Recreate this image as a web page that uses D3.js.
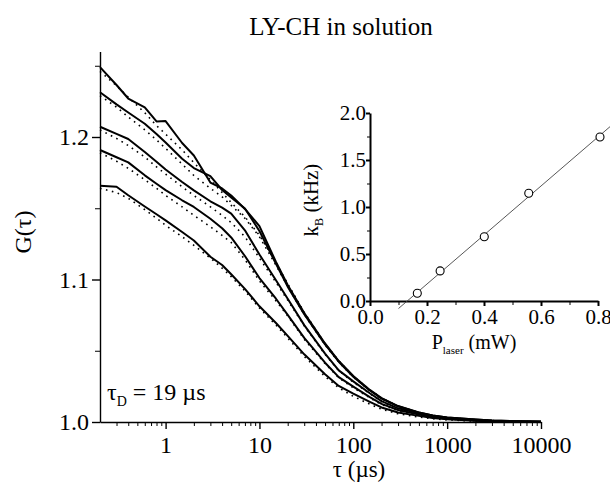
<!DOCTYPE html>
<html>
<head>
<meta charset="utf-8">
<script src="https://cdn.jsdelivr.net/npm/d3@7"></script>
<style>
  body { margin: 0; background: #fff; }
  .axis path, .axis line { stroke: #000; }
  text { font-family: "Liberation Serif", "Times New Roman", Times, serif; fill: #000; }
</style>
</head>
<body>
<script>
const SERIF = "'Liberation Serif', 'Times New Roman', Times, serif";

// lag times (us) shared by all correlation curves
const tau = [0.2, 0.3, 0.4, 0.6, 0.8, 1, 1.5, 2, 3, 4, 5, 7, 10, 15, 20, 30, 50, 70, 100, 150, 200, 300, 500, 700, 1000, 2000, 3000, 5000, 10000];

// measured G(tau), one array per laser power (top to bottom)
const g1 = [1.249, 1.2365, 1.227, 1.2208, 1.2109, 1.2112, 1.1958, 1.187, 1.168, 1.1639, 1.159, 1.1495, 1.1375, 1.1123, 1.0961, 1.0765, 1.0551, 1.0428, 1.0323, 1.0225, 1.0168, 1.0112, 1.0067, 1.0046, 1.0032, 1.0018, 1.0011, 1.0006, 1.0002];
const g2 = [1.2314, 1.2229, 1.2172, 1.2093, 1.2021, 1.1961, 1.1847, 1.1782, 1.1725, 1.1628, 1.1575, 1.1498, 1.134, 1.111, 1.095, 1.0757, 1.0545, 1.0423, 1.0318, 1.0221, 1.0165, 1.011, 1.0066, 1.0045, 1.0031, 1.0017, 1.001, 1.0006, 1.0002];
const g3 = [1.2072, 1.2022, 1.1986, 1.1895, 1.1827, 1.1772, 1.1684, 1.1625, 1.1549, 1.1504, 1.1462, 1.1345, 1.1175, 1.0995, 1.0865, 1.068, 1.048, 1.0362, 1.0285, 1.0202, 1.0146, 1.0096, 1.0061, 1.004, 1.0027, 1.0012, 1.0007, 1.0004, 1.0001];
const g4 = [1.1909, 1.1858, 1.1822, 1.1731, 1.1672, 1.1627, 1.1556, 1.1509, 1.1426, 1.136, 1.1295, 1.1165, 1.101, 1.0865, 1.0752, 1.059, 1.0416, 1.0315, 1.0248, 1.0175, 1.0127, 1.0084, 1.0053, 1.0035, 1.0024, 1.001, 1.0006, 1.0004, 1.0001];
const g5 = [1.1658, 1.1651, 1.1591, 1.1512, 1.1458, 1.1415, 1.1333, 1.1274, 1.116, 1.1102, 1.1037, 1.0934, 1.0812, 1.0695, 1.0604, 1.0475, 1.0335, 1.0253, 1.0199, 1.0141, 1.0102, 1.0067, 1.0043, 1.0028, 1.0019, 1.0008, 1.0005, 1.0003, 1.0001];

// fitted curves (dotted)
const f1 = [1.246, 1.236, 1.228, 1.217, 1.208, 1.202, 1.191, 1.182, 1.17, 1.161, 1.154, 1.144, 1.131, 1.112, 1.097, 1.077, 1.055, 1.043, 1.032, 1.0225, 1.0168, 1.011, 1.0066, 1.0045, 1.0031, 1.0016, 1.001, 1.0005, 1.0001];
const f2 = [1.229, 1.221, 1.214, 1.205, 1.198, 1.192, 1.181, 1.173, 1.164, 1.158, 1.152, 1.143, 1.13, 1.11, 1.095, 1.0755, 1.054, 1.042, 1.0315, 1.022, 1.0163, 1.0108, 1.0064, 1.0044, 1.003, 1.0016, 1.001, 1.0005, 1.0001];
const f3 = [1.205, 1.199, 1.194, 1.186, 1.179, 1.174, 1.165, 1.159, 1.151, 1.145, 1.14, 1.13, 1.115, 1.098, 1.0855, 1.0675, 1.0475, 1.036, 1.028, 1.0198, 1.0143, 1.0093, 1.0058, 1.0038, 1.0026, 1.0011, 1.0006, 1.0003, 1.0001];
const f4 = [1.189, 1.183, 1.178, 1.17, 1.164, 1.159, 1.151, 1.145, 1.137, 1.131, 1.126, 1.114, 1.099, 1.085, 1.0745, 1.058, 1.041, 1.031, 1.024, 1.017, 1.0122, 1.008, 1.005, 1.0033, 1.0022, 1.0009, 1.0005, 1.0003, 1.0001];
const f5 = [1.164, 1.161, 1.157, 1.149, 1.143, 1.138, 1.13, 1.124, 1.115, 1.108, 1.102, 1.092, 1.08, 1.068, 1.059, 1.046, 1.032, 1.024, 1.018, 1.0125, 1.009, 1.0058, 1.0035, 1.0023, 1.0015, 1.0006, 1.0004, 1.0002, 1.0001];

// inset: background rate vs laser power
const pLaser = [0.166, 0.246, 0.401, 0.557, 0.807];
const kB = [0.082, 0.32, 0.684, 1.146, 1.745];
const fitLineP = [0.10, 0.85];
const fitLineK = [-0.08, 1.875];

// tick labels
const mainXTicks = [1, 10, 100, 1000, 10000];
const mainYTicks = [1.0, 1.1, 1.2];
const mainYMinor = [1.05, 1.15, 1.25];
const insetXTicks = [0.0, 0.2, 0.4, 0.6, 0.8];
const insetXMinor = [0.1, 0.3, 0.5, 0.7];
const insetYTicks = [0.0, 0.5, 1.0, 1.5, 2.0];
const insetYMinor = [0.25, 0.75, 1.25, 1.75];

const W = 610, H = 482;
const svg = d3.select("body").append("svg")
  .attr("width", W).attr("height", H)
  .attr("font-family", SERIF);

const x = d3.scaleLog().domain([0.2, 10000]).range([100, 541]);
const y = d3.scaleLinear().domain([1.0, 1.26]).range([422, 51.5]);

// minor log ticks
let xMinor = [0.3, 0.4, 0.5, 0.6, 0.7, 0.8, 0.9];
for (let d = 1; d < 10000; d *= 10) {
  for (let k = 2; k < 10; k++) xMinor.push(k * d);
}

// title
svg.append("text")
  .attr("x", 341).attr("y", 35)
  .attr("text-anchor", "middle")
  .style("font-size", "25px")
  .text("LY-CH in solution");

// main axes
const xAxis = svg.append("g").attr("class", "axis")
  .attr("transform", "translate(0,422)")
  .call(d3.axisBottom(x).tickValues(mainXTicks).tickFormat(d3.format("d")).tickSize(7).tickSizeOuter(0));
svg.append("g").attr("class", "axis")
  .attr("transform", "translate(0,422)")
  .call(d3.axisBottom(x).tickValues(xMinor).tickFormat("").tickSize(4).tickSizeOuter(0))
  .select(".domain").remove();
xAxis.attr("font-family", SERIF);
xAxis.selectAll("text").style("font-size", "24px").attr("dy", "0.9em").attr("y", 9);
xAxis.selectAll("path, line").style("stroke-width", "1.4px");

const yAxis = svg.append("g").attr("class", "axis")
  .attr("transform", "translate(100,0)")
  .call(d3.axisLeft(y).tickValues(mainYTicks).tickFormat(d3.format(".1f")).tickSize(8).tickSizeOuter(0));
svg.append("g").attr("class", "axis")
  .attr("transform", "translate(100,0)")
  .call(d3.axisLeft(y).tickValues(mainYMinor).tickFormat("").tickSize(5).tickSizeOuter(0))
  .select(".domain").remove();
yAxis.attr("font-family", SERIF);
yAxis.selectAll("text").style("font-size", "24px").attr("x", -11);
yAxis.selectAll("path, line").style("stroke-width", "1.4px");

// axis titles
svg.append("text")
  .attr("transform", "translate(31,232) rotate(-90)")
  .attr("text-anchor", "middle")
  .style("font-size", "24px")
  .text("G(\u03c4)");

svg.append("text")
  .attr("x", 359).attr("y", 477)
  .attr("text-anchor", "middle")
  .style("font-size", "23px")
  .text("\u03c4 (\u00b5s)");

// tau_D annotation
const tD = svg.append("text").attr("x", 107).attr("y", 400).style("font-size", "24px");
tD.append("tspan").text("\u03c4");
tD.append("tspan").attr("dy", 6).style("font-size", "14px").text("D");
tD.append("tspan").attr("dy", -6).text(" = 19 \u00b5s");

// curves
const line = d3.line()
  .x((d) => x(d[0]))
  .y((d) => y(d[1]));

const fits = [f1, f2, f3, f4, f5];
fits.forEach((f) => {
  svg.append("path")
    .datum(tau.map((t, i) => [t, f[i]]))
    .attr("d", line)
    .attr("fill", "none")
    .attr("stroke", "#000")
    .attr("stroke-width", 1.6)
    .attr("stroke-dasharray", "1.6 4.5");
});

const curves = [g1, g2, g3, g4, g5];
curves.forEach((g) => {
  svg.append("path")
    .datum(tau.map((t, i) => [t, g[i]]))
    .attr("d", line)
    .attr("fill", "none")
    .attr("stroke", "#000")
    .attr("stroke-width", 2)
    .attr("stroke-linejoin", "round");
});

// ---- inset ----
const ix = d3.scaleLinear().domain([0, 0.8]).range([370, 598]);
const iy = d3.scaleLinear().domain([0, 2.0]).range([301, 113]);

const ixAxis = svg.append("g").attr("class", "axis")
  .attr("transform", "translate(0,301)")
  .call(d3.axisBottom(ix).tickValues(insetXTicks).tickFormat(d3.format(".1f")).tickSize(5).tickSizeOuter(0));
svg.append("g").attr("class", "axis")
  .attr("transform", "translate(0,301)")
  .call(d3.axisBottom(ix).tickValues(insetXMinor).tickFormat("").tickSize(4).tickSizeOuter(0))
  .select(".domain").remove();
ixAxis.attr("font-family", SERIF);
ixAxis.selectAll("text").style("font-size", "21px").attr("y", 6).attr("dy", "0.8em");
ixAxis.selectAll("path, line").style("stroke-width", "2px");

const iyAxis = svg.append("g").attr("class", "axis")
  .attr("transform", "translate(370,0)")
  .call(d3.axisLeft(iy).tickValues(insetYTicks).tickFormat(d3.format(".1f")).tickSize(4).tickSizeOuter(0));
svg.append("g").attr("class", "axis")
  .attr("transform", "translate(370,0)")
  .call(d3.axisLeft(iy).tickValues(insetYMinor).tickFormat("").tickSize(3).tickSizeOuter(0))
  .select(".domain").remove();
iyAxis.attr("font-family", SERIF);
iyAxis.selectAll("text").style("font-size", "21px").attr("x", -4);
iyAxis.selectAll("path, line").style("stroke-width", "2px");

// inset axis titles
const kLab = svg.append("text")
  .attr("transform", "translate(318,200) rotate(-90)")
  .attr("text-anchor", "middle")
  .style("font-size", "21px");
kLab.append("tspan").text("k");
kLab.append("tspan").attr("dy", 5).style("font-size", "12px").text("B");
kLab.append("tspan").attr("dy", -5).text(" (kHz)");

const pLab = svg.append("text")
  .attr("x", 474).attr("y", 349)
  .attr("text-anchor", "middle")
  .style("font-size", "20px");
pLab.append("tspan").text("P");
pLab.append("tspan").attr("dy", 5).style("font-size", "11px").text("laser");
pLab.append("tspan").attr("dy", -5).text(" (mW)");

// fit line
svg.append("line")
  .attr("x1", ix(fitLineP[0])).attr("y1", iy(fitLineK[0]))
  .attr("x2", ix(fitLineP[1])).attr("y2", iy(fitLineK[1]))
  .attr("stroke", "#444")
  .attr("stroke-width", 0.9);

// points
svg.selectAll(".kpt")
  .data(pLaser.map((p, i) => [p, kB[i]]))
  .enter().append("circle")
  .attr("class", "kpt")
  .attr("cx", (d) => ix(d[0]))
  .attr("cy", (d) => iy(d[1]))
  .attr("r", 4)
  .attr("fill", "#fff")
  .attr("stroke", "#000")
  .attr("stroke-width", 1.1);
</script>
</body>
</html>
